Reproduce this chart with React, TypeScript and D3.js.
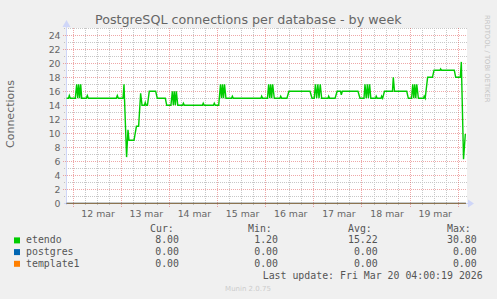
import React from "react";
import * as d3 from "d3";

const W = 497;
const H = 299;

// hours since 2026-03-12 00:00 (UTC used as local clock)
const etendoHours = [
  -3.24, -2.24, -1.84, -1.35, 1.15, 1.84, 2.34, 2.84, 3.34, 3.84, 4.34, 6.63, 7.13, 7.62,
  21.58, 22.07, 22.57, 24.92, 25.41, 26.7, 27.4, 27.9, 30.4, 31.6, 32.7, 33.7, 34.4, 35.6,
  36.0, 36.5, 37.1, 38.0, 41.2, 42.0, 46.0, 46.7, 48.8, 49.5, 50.0, 50.5, 51.0, 51.5, 52.2,
  54.6, 55.0, 55.5, 64.5, 64.9, 65.4, 70.0, 70.4, 70.9, 72.6, 73.5, 74.0, 74.5, 75.0, 75.5,
  76.2, 79.0, 79.4, 79.9, 93.7, 94.0, 94.5, 96.9, 97.5, 98.0, 98.5, 99.0, 99.5, 100.3,
  103.1, 103.5, 104.0, 106.6, 107.6, 118.1, 119.1, 120.2, 120.8, 121.4, 122.0, 122.6, 123.2,
  123.9, 127.1, 127.4, 127.9, 130.6, 131.6, 133.3, 133.7, 134.2, 142.0, 143.0, 145.0, 145.5,
  146.1, 146.7, 147.2, 147.8, 148.4, 150.8, 151.1, 151.6, 153.5, 153.8, 154.3, 155.2, 159.2,
  159.6, 160.2, 166.3, 167.1, 168.7, 169.3, 169.8, 170.3, 170.8, 171.3, 172.1, 174.7, 175.0,
  175.5, 176.7, 179.1, 179.9, 182.9, 183.2, 183.7, 190.0, 190.7, 193.0, 193.5, 194.6, 195.5,
];
const etendoValues = [
  15, 15, 15.4, 15, 15, 17, 15, 17, 15, 17, 15, 15, 15.4, 15,
  15, 15.4, 15, 15, 17, 6.6, 10.5, 9, 9, 11, 11, 15.7, 14, 14,
  14.4, 14, 14, 16, 16, 15, 15, 14, 14, 16, 14, 16, 14, 16, 14,
  14, 14.3, 14, 14, 14.3, 14, 14, 14.3, 14, 14, 17, 15, 17, 15, 17,
  15, 15, 15.3, 15, 15, 15.3, 15, 15, 17, 15, 17, 15, 17, 15,
  15, 15.3, 15, 15, 16, 16, 15, 15, 17, 15, 17, 15, 17,
  15, 15, 15.3, 15, 15, 16, 16, 15.5, 16, 16, 15, 15, 17,
  15, 17, 15, 17, 15, 15, 15.3, 15, 15, 15.3, 15, 16, 16,
  18, 16, 16, 15, 15, 17, 15, 17, 15, 17, 15, 15, 15.3,
  15, 18, 18, 19, 19, 19.2, 19, 19, 18, 18, 20.2, 6.3, 9.9,
];
const zeroSeriesHours = [-3.25, 195.8];
const postgresValues = [0, 0];
const template1Values = [0, 0];

const yTicks = [0, 2, 4, 6, 8, 10, 12, 14, 16, 18, 20, 22, 24];
const dayLabels = ["12 mar", "13 mar", "14 mar", "15 mar", "16 mar", "17 mar", "18 mar", "19 mar"];

const legendNames = ["etendo", "postgres", "template1"];
const legendColors = ["#00cc00", "#0066b3", "#ff8000"];
const curValues = ["8.00", "0.00", "0.00"];
const minValues = ["1.20", "0.00", "0.00"];
const avgValues = ["15.22", "0.00", "0.00"];
const maxValues = ["30.80", "0.00", "0.00"];

const baseMs = Date.UTC(2026, 2, 12);
const toDate = (h: number) => new Date(baseMs + h * 3600000);

function dotsV(px: number, y0: number, y1: number) {
  let d = "";
  for (let yy = y0; yy < y1; yy += 2) d += `M${px},${yy}v1`;
  return d;
}
function dotsH(py: number, x0: number, x1: number) {
  let d = "";
  for (let xx = x0; xx < x1; xx += 2) d += `M${xx},${py}h1`;
  return d;
}

export default function App() {
  const x = d3.scaleUtc().domain([toDate(-3.24), toDate(195.83)]).range([66.5, 466]);
  const y = d3.scaleLinear().domain([0, 25]).range([203.3, 28.3]);

  const gridTimes = d3.utcHour.every(6)!.range(toDate(-3.24), toDate(195.9));
  const days = d3.utcDay.range(toDate(0), toDate(192));

  const line = d3
    .line<number>()
    .x((_, i) => x(toDate(etendoHours[i])))
    .y((v) => y(v));
  const zeroLine = d3
    .line<number>()
    .x((_, i) => x(toDate(zeroSeriesHours[i])))
    .y((v) => y(v));

  const minorC = "rgba(143,143,143,0.5)";
  const majorC = "rgba(222,79,79,0.5)";
  const axisC = "#CFD6F8";
  const fontC = "#666666";
  const sans = "'DejaVu Sans', sans-serif";
  const mono = "'DejaVu Sans Mono', monospace";

  const plotTop = 28;
  const plotBottom = 203;

  let minorPath = "";
  let majorPath = "";
  d3.range(1, 26).forEach((v) => {
    const py = Math.floor(y(v)) + 0.5;
    if (v % 2 === 0) majorPath += dotsH(py, 63, 467);
    else minorPath += dotsH(py, 64, 467);
  });
  gridTimes.forEach((t) => {
    const px = Math.floor(x(t)) + 0.5;
    if (t.getUTCHours() === 0) majorPath += dotsV(px, plotTop, 207);
    else minorPath += dotsV(px, plotTop, 206);
  });

  return (
    <svg width={W} height={H} style={{ position: "absolute", left: 0, top: 0, background: "#f0f0f0" }}>
      <rect x={0} y={0} width={W} height={H} fill="#f0f0f0" />
      <rect x={66} y={plotTop} width={401} height={plotBottom - plotTop + 1} fill="#ffffff" />

      <g shapeRendering="crispEdges">
        <path d={minorPath} stroke={minorC} strokeWidth={1} fill="none" />
        <path d={majorPath} stroke={majorC} strokeWidth={1} fill="none" />
        {/* axes */}
        <line x1={66.5} x2={66.5} y1={24} y2={205} stroke={axisC} strokeWidth={1} />
        <line x1={64} x2={470} y1={203.5} y2={203.5} stroke={axisC} strokeWidth={1} />
      </g>
      <path d="M62.5,27 L66.5,20 L70.5,27 Z" fill={axisC} />
      <path d="M468,199.5 L474,203.5 L468,207.5 Z" fill={axisC} />

      {/* series */}
      <path d={line(etendoValues) || ""} fill="none" stroke={legendColors[0]} strokeWidth={1.4} />
      <path d={zeroLine(postgresValues) || ""} fill="none" stroke={legendColors[1]} strokeWidth={1.2} />
      <path d={zeroLine(template1Values) || ""} fill="none" stroke={legendColors[2]} strokeWidth={1.2} opacity={0.55} />

      {/* y ticks */}
      {yTicks.map((v) => (
        <text
          key={"yt" + v}
          x={60.5}
          y={Math.floor(y(v)) + 0.5 + 3.4}
          textAnchor="end"
          fontFamily={sans}
          fontSize={9.33}
          fill={fontC}
        >
          {v}
        </text>
      ))}
      {/* x labels */}
      {days.map((d, i) => (
        <text
          key={"xl" + i}
          x={x(d3.utcHour.offset(d, 12)) + 1}
          y={216.7}
          textAnchor="middle"
          fontFamily={sans}
          fontSize={9.33}
          fill={fontC}
        >
          {dayLabels[i]}
        </text>
      ))}

      {/* title */}
      <text x={248.3} y={24} textAnchor="middle" fontFamily={sans} fontSize={12.7} fill={fontC}>
        PostgreSQL connections per database - by week
      </text>
      {/* y label */}
      <text
        transform="translate(10.5,114) rotate(-90)"
        textAnchor="middle"
        dy="0.35em"
        fontFamily={sans}
        fontSize={11}
        fill={fontC}
      >
        Connections
      </text>
      {/* watermark */}
      <text
        transform="translate(487.5,15) rotate(90)"
        textAnchor="start"
        dy="0.35em"
        fontFamily={sans}
        fontSize={6.8}
        fill="#c4c4c4"
      >
        RRDTOOL / TOBI OETIKER
      </text>

      {/* legend */}
      <g fontFamily={mono} fontSize={9.9} fill="#555555">
        <text x={150} y={231.7}>Cur:</text>
        <text x={248} y={231.7}>Min:</text>
        <text x={348} y={231.7}>Avg:</text>
        <text x={447} y={231.7}>Max:</text>
        {legendNames.map((n, i) => {
          const by = 243.4 + i * 11.7;
          return (
            <g key={n}>
              <rect x={14} y={by - 6} width={6} height={6} fill={legendColors[i]} />
              <text x={26} y={by}>{n}</text>
              <text x={179} y={by} textAnchor="end">{curValues[i]}</text>
              <text x={278} y={by} textAnchor="end">{minValues[i]}</text>
              <text x={377.7} y={by} textAnchor="end">{avgValues[i]}</text>
              <text x={476.7} y={by} textAnchor="end">{maxValues[i]}</text>
            </g>
          );
        })}
        <text x={482.7} y={279.3} textAnchor="end">Last update: Fri Mar 20 04:00:19 2026</text>
      </g>
      <text x={248} y={291} textAnchor="middle" fontFamily={sans} fontSize={7} fill="#cccccc">
        Munin 2.0.75
      </text>
    </svg>
  );
}
